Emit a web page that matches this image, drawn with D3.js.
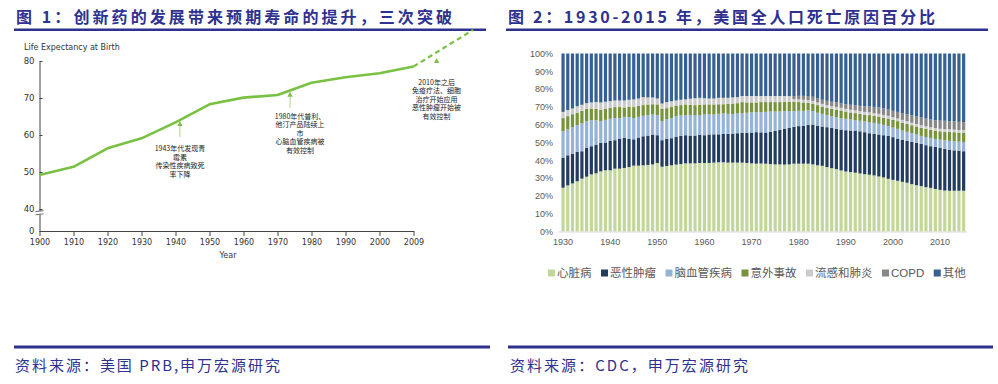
<!DOCTYPE html>
<html><head><meta charset="utf-8">
<script src="https://cdn.jsdelivr.net/npm/d3@7"></script>
<style>body{margin:0;background:#fff} svg{display:block}</style>
</head><body>
<svg id="c" width="998" height="384"></svg>
<script>
// ---------- Chart 1 data ----------
const lifeYears = ["1900","1910","1920","1930","1940","1950","1960","1970","1980","1990","2000","2009"];
const lifeValues = [49.2, 51.4, 56.4, 59.1, 63.4, 68.3, 70.1, 70.8, 74.1, 75.6, 76.7, 78.5];
const projPos = [11, 12.75];
const projValues = [78.5, 88.4];
const lifeYTicks = [0, 40, 50, 60, 70, 80];
const annoPos = [4.13, 7.37, 11.68];
const annoTip = [63.8, 71.7, 80.8];
const annoBase = [59.5, 67.3, 80.8];
const annoText = [
  ["1943年代发现青", "霉素", "传染性疾病致死", "率下降"],
  ["1980年代普利、", "他汀产品陆续上", "市", "心脑血管疾病被", "有效控制"],
  ["2010年之后", "免疫疗法、细胞", "治疗开始应用", "恶性肿瘤开始被", "有效控制"]
];

// ---------- Chart 2 data ----------
const deathYears = [1930,1931,1932,1933,1934,1935,1936,1937,1938,1939,1940,1941,1942,1943,1944,1945,1946,1947,1948,1949,
 1950,1951,1952,1953,1954,1955,1956,1957,1958,1959,1960,1961,1962,1963,1964,1965,1966,1967,1968,1969,
 1970,1971,1972,1973,1974,1975,1976,1977,1978,1979,1980,1981,1982,1983,1984,1985,1986,1987,1988,1989,
 1990,1991,1992,1993,1994,1995,1996,1997,1998,1999,2000,2001,2002,2003,2004,2005,2006,2007,2008,2009,
 2010,2011,2012,2013,2014,2015];
const seriesNames = ["心脏病","恶性肿瘤","脑血管疾病","意外事故","流感和肺炎","COPD","其他"];
const heart = [24.6,25.9,27.0,28.2,29.7,30.8,32.1,32.7,33.8,34.4, 34.4,35.3,35.3,35.7,36.2,37.0,37.0,37.2,37.4,37.7,
 38.5,36.4,36.8,37.2,37.6,37.9,38.3,38.3,38.3,38.5, 38.5,38.5,38.7,38.9,38.9,38.7,38.7,38.7,38.7,38.5,
 38.3,38.1,38.2,38.1,37.9,37.7,37.7,37.6,37.7,38.1, 38.1,38.1,38.1,37.7,37.2,36.9,36.2,35.6,35.1,34.3,
 33.7,33.4,33.0,32.6,32.2,31.9,31.5,30.9,30.4,29.6, 29.0,28.5,27.9,27.4,26.6,26.0,25.5,24.9,24.5,23.9,
 23.4,23.0,22.9,22.9,22.9,22.9];
const cancer = [16.7,16.9,16.6,16.5,15.4,16.1,15.8,16.1,16.0,15.6, 16.5,16.0,16.9,16.9,15.8,14.8,15.8,16.3,16.5,16.8,
 15.6,14.9,15.4,15.2,15.5,15.8,15.8,15.6,15.6,15.8, 15.6,16.0,15.9,15.7,15.9,16.1,16.3,16.5,16.7,16.9,
 17.3,17.7,17.5,17.5,18.1,18.8,19.4,20.2,20.5,20.7, 21.1,21.2,21.8,22.4,22.3,22.1,22.4,22.6,22.6,23.0,
 23.2,23.3,23.7,23.7,23.6,23.3,23.3,23.6,23.7,24.1, 24.0,23.7,23.6,23.5,23.7,23.8,23.7,23.6,23.4,23.6,
 23.5,23.4,23.1,22.7,22.5,22.2];
const cerebro = [15.0,14.5,15.0,15.0,15.6,15.1,14.6,13.7,12.2,12.7, 12.4,12.4,11.5,11.8,12.2,11.9,11.6,11.5,11.5,11.2,
 11.3,10.7,10.9,11.3,11.7,11.5,11.3,11.6,11.5,11.1, 11.6,11.4,11.1,11.5,11.5,11.3,10.9,11.1,11.1,11.3,
 11.3,11.1,11.4,11.6,11.4,10.9,10.3,9.8,9.4,8.8, 8.6,8.5,8.1,7.5,7.2,7.1,6.9,6.6,6.5,6.4,
 6.4,6.2,5.8,5.9,6.0,6.2,6.2,6.0,5.8,5.5, 5.4,5.5,5.2,5.1,4.9,4.7,4.5,4.6,4.7,4.5,
 4.7,4.9,4.9,5.1,5.1,5.2];
const accident = [7.4,7.5,7.3,7.0,7.1,6.9,6.6,6.4,6.5,6.2, 6.2,6.2,6.2,5.3,5.8,6.2,6.2,6.0,6.0,5.8,
 6.0,6.9,6.2,6.2,6.0,5.8,6.0,5.7,5.6,5.8, 5.7,5.5,5.7,5.4,5.2,5.6,6.0,5.8,6.2,5.8,
 5.6,5.6,5.6,5.5,5.3,5.3,5.3,5.3,5.3,5.3, 4.9,4.7,4.3,4.3,4.3,4.1,4.0,4.1,4.3,4.3,
 4.1,4.0,4.0,3.9,3.9,4.0,4.0,4.1,4.1,4.3, 4.3,4.3,4.5,4.5,4.5,4.5,4.5,4.6,4.5,4.7,
 4.7,4.8,5.1,5.1,5.1,5.3];
const flu = [3.5,3.4,3.2,3.7,3.4,3.2,3.4,3.8,4.0,4.0, 3.7,3.7,3.7,3.9,4.0,4.3,4.1,4.5,3.9,3.8,
 3.3,3.0,3.4,3.3,2.8,3.0,2.8,3.4,3.9,3.9, 3.5,3.3,3.3,3.6,3.6,3.4,3.4,3.4,3.4,3.6,
 3.6,3.6,3.4,3.4,3.4,3.4,3.4,3.2,3.2,1.5, 1.5,1.5,1.5,1.5,1.5,1.5,1.5,1.5,1.5,1.5,
 1.5,1.5,1.5,1.5,1.5,1.5,1.5,1.5,1.5,1.5, 1.5,1.5,1.5,1.5,1.4,1.4,1.4,1.4,1.4,1.4,
 1.4,1.4,1.4,1.4,1.4,1.4];
const copd = [0,0,0,0,0,0,0,0,0,0, 0,0,0,0,0,0,0,0,0,0,
 0,0,0,0,0,0,0,0,0,0, 0,0,0,0,0,0,0,0,0,0,
 0,0,0,0,0,0,0,0,0,1.7, 2.0,2.2,2.3,2.3,2.2,2.3,2.4,2.5,2.5,2.4,
 2.6,2.8,2.8,3.0,3.2,3.3,3.5,3.6,3.6,3.5, 3.6,3.7,3.8,3.9,4.1,4.2,4.4,4.4,4.4,4.4,
 4.6,4.7,4.6,4.6,4.6,4.4];
const other = [32.8,31.8,30.9,29.6,28.8,27.9,27.5,27.3,27.5,27.1, 26.8,26.4,26.4,26.4,26.0,25.8,25.3,24.5,24.7,24.7,
 25.3,28.1,27.3,26.8,26.4,26.0,25.8,25.4,25.1,24.9, 25.1,25.3,25.3,24.9,24.9,24.9,24.7,24.5,23.9,23.9,
 23.9,23.9,23.9,23.9,23.9,23.9,23.9,23.9,23.9,23.9, 23.8,23.8,23.9,24.3,25.3,26.0,26.6,27.1,27.5,28.1,
 28.5,28.8,29.2,29.4,29.6,29.8,30.0,30.3,30.9,31.5, 32.2,32.8,33.5,34.1,34.8,35.4,36.0,36.5,37.1,37.5,
 37.7,37.8,38.0,38.2,38.4,38.6];
const deathXTicks = [1930,1940,1950,1960,1970,1980,1990,2000,2010];
const pctTicks = [0,0.1,0.2,0.3,0.4,0.5,0.6,0.7,0.8,0.9,1];

const title1 = "图 1：创新药的发展带来预期寿命的提升，三次突破";
const title2 = "图 2：1930-2015 年，美国全人口死亡原因百分比";
const source1 = "资料来源：美国 PRB,申万宏源研究";
const source2 = "资料来源：CDC，申万宏源研究";

// ---------- styles ----------
const navy = "#2e318f";
const cjk = "'Noto Sans CJK SC', sans-serif";
const colors = ["#c3d69b","#223c5f","#95b3d7","#77933c","#cbcbcb","#878787","#376092"];
const green = "#79c143";

const svg = d3.select("#c");

// Titles & rules
function header(x, w, tx, tl, txt) {
  svg.append("text").attr("x", tx).attr("y", 23).text(txt)
    .attr("font-family", cjk).attr("font-weight", 700).attr("font-size", 16)
    .attr("fill", navy).attr("textLength", tl).attr("lengthAdjust", "spacing");
  svg.append("rect").attr("x", x).attr("y", 28.5).attr("width", w).attr("height", 2.5).attr("fill", navy);
}
header(14, 472, 16, 436, title1);
header(506, 482, 508, 427, title2);

function footer(x, w, tx, tl, txt) {
  svg.append("rect").attr("x", x).attr("y", 345.5).attr("width", w).attr("height", 3).attr("fill", navy);
  svg.append("text").attr("x", tx).attr("y", 371).text(txt)
    .attr("font-family", cjk).attr("font-size", 15)
    .attr("fill", navy).attr("textLength", tl).attr("lengthAdjust", "spacing");
}
footer(14, 476, 15, 265, source1);
footer(508, 485, 510, 238, source2);

// ---------- Chart 1 ----------
const lat = "'DejaVu Sans', Verdana, sans-serif";
const xL = d3.scaleLinear().domain([0, lifeYears.length - 1]).range([39.5, 413.5]);
const yL = d3.scaleLinear().domain([0, 40, 80]).range([231, 209, 61]);

svg.append("text").attr("x", 24).attr("y", 50).text("Life Expectancy at Birth")
  .attr("font-family", lat).attr("font-size", 8).attr("fill", "#333");

const gy = svg.append("g").attr("transform", "translate(39.5,0)")
  .call(d3.axisLeft(yL).tickValues(lifeYTicks).tickSizeInner(-3).tickSizeOuter(0).tickPadding(5));
gy.selectAll("path,line").attr("stroke", "#444");
gy.selectAll("text").attr("font-family", lat).attr("font-size", 8.5).attr("fill", "#333");

const gx = svg.append("g").attr("transform", "translate(0,231)")
  .call(d3.axisBottom(xL).tickValues(d3.range(lifeYears.length)).tickFormat(i => lifeYears[i]).tickSizeInner(5).tickSizeOuter(0).tickPadding(3));
gx.selectAll("path,line").attr("stroke", "#444");
gx.selectAll("text").attr("font-family", lat).attr("font-size", 8).attr("fill", "#333");

svg.append("text").attr("x", 228).attr("y", 258).attr("text-anchor", "middle").text("Year")
  .attr("font-family", lat).attr("font-size", 8).attr("fill", "#333");

// axis break
svg.append("rect").attr("x", 37).attr("y", yL(36.2)).attr("width", 5).attr("height", 3.5).attr("fill", "#fff");
[0, 3.2].forEach(d => {
  svg.append("line").attr("x1", 35.5).attr("y1", yL(35.3) + d).attr("x2", 43.5).attr("y2", yL(36.9) + d)
    .attr("stroke", "#444").attr("stroke-width", 0.8);
});

// life line
svg.append("path").datum(lifeValues)
  .attr("d", d3.line().x((d, i) => xL(i)).y(d => yL(d)))
  .attr("fill", "none").attr("stroke", green).attr("stroke-width", 2.6).attr("stroke-linejoin", "round");
svg.append("path").datum(projValues)
  .attr("d", d3.line().x((d, i) => xL(projPos[i])).y(d => yL(d)))
  .attr("fill", "none").attr("stroke", green).attr("stroke-width", 2.2).attr("stroke-dasharray", "5,3.5");

// annotations
const textTop = [148.5 - 0, 116, 82];
const textDx = [0, 10, 0];
annoPos.forEach((p, k) => {
  const x = xL(p), yt = yL(annoTip[k]), yb = yL(annoBase[k]);
  if (yb - yt > 1) svg.append("line").attr("x1", x).attr("x2", x).attr("y1", yt + 4).attr("y2", yb)
    .attr("stroke", "#a5d17a").attr("stroke-width", 0.9);
  svg.append("path").attr("d", `M${x},${yt}L${x - 2.6},${yt + 5}L${x + 2.6},${yt + 5}Z`).attr("fill", "#7cbf44");
  annoText[k].forEach((t, j) => {
    svg.append("text").attr("x", x + textDx[k]).attr("y", textTop[k] + 2.5 + j * 8.6)
      .attr("text-anchor", "middle").text(t)
      .attr("font-family", cjk).attr("font-size", 7).attr("fill", "#222");
  });
});

// ---------- Chart 2 ----------
const rows = deathYears.map((y, i) => ({
  year: y, "心脏病": heart[i], "恶性肿瘤": cancer[i], "脑血管疾病": cerebro[i], "意外事故": accident[i],
  "流感和肺炎": flu[i], "COPD": copd[i], "其他": other[i]
}));
const stack = d3.stack().keys(seriesNames).offset(d3.stackOffsetExpand)(rows);
const xR = d3.scaleBand().domain(deathYears).range([560.7, 966]).paddingInner(0.32).paddingOuter(0.16);
const yR = d3.scaleLinear().domain([0, 1]).range([231.5, 53.5]);
const arial = "'Liberation Sans', Arial, sans-serif";

svg.append("g").selectAll("g").data(stack).join("g").attr("fill", (d, i) => colors[i])
  .selectAll("rect").data(d => d).join("rect")
  .attr("x", d => xR(d.data.year)).attr("width", xR.bandwidth())
  .attr("y", d => yR(d[1])).attr("height", d => yR(d[0]) - yR(d[1]));

const gyR = svg.append("g").attr("transform", "translate(556,0)")
  .call(d3.axisLeft(yR).tickValues(pctTicks).tickFormat(d3.format(".0%")).tickSize(0).tickPadding(3));
gyR.select(".domain").remove();
gyR.selectAll("text").attr("font-family", arial).attr("font-size", 9).attr("fill", "#595959");

const gxR = svg.append("g").attr("transform", "translate(0,231.5)")
  .call(d3.axisBottom(xR).tickValues(deathXTicks).tickSize(0).tickPadding(7));
gxR.select(".domain").attr("stroke", "#d9d9d9").attr("d", "M558.5,0.5H967");
gxR.selectAll("text").attr("font-family", arial).attr("font-size", 9).attr("fill", "#595959");

// legend
let lx = 548;
seriesNames.forEach((n, i) => {
  svg.append("rect").attr("x", lx).attr("y", 269.5).attr("width", 7).attr("height", 7).attr("fill", colors[i]);
  const t = svg.append("text").attr("x", lx + 9).attr("y", 277).text(n)
    .attr("font-family", "'Liberation Sans', 'Noto Sans CJK SC', sans-serif").attr("font-size", 11.5).attr("fill", "#595959");
  lx += 9 + t.node().getComputedTextLength() + 9.5;
});
</script>
</body></html>
